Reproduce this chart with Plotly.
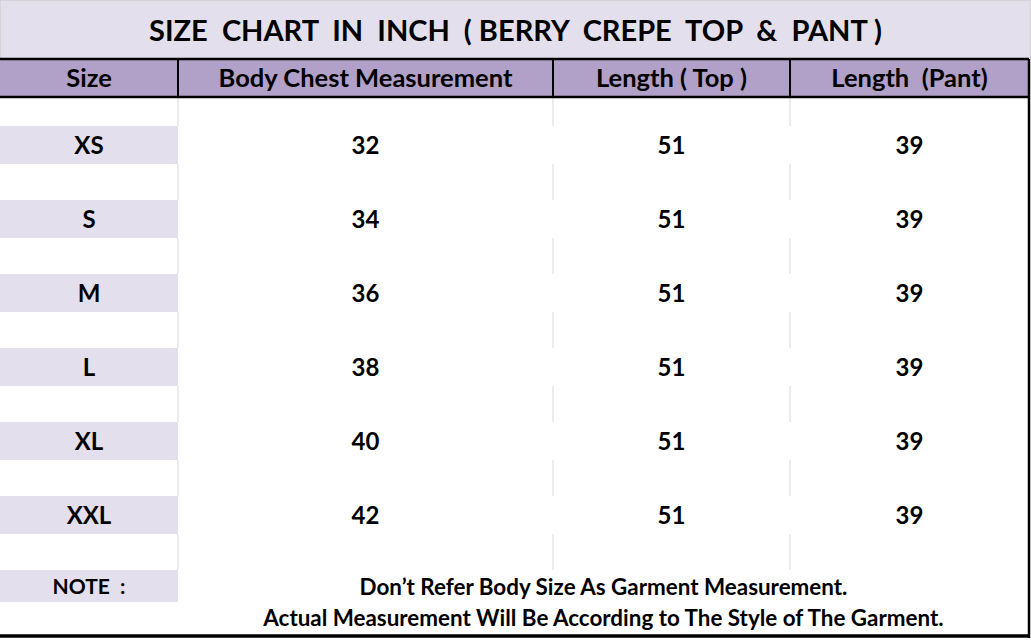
import plotly.graph_objects as go

# table content
title = "SIZE  CHART  IN  INCH  ( BERRY  CREPE  TOP  &  PANT )"
headers = ["Size", "Body Chest Measurement", "Length ( Top )", "Length  (Pant)"]
sizes = ["XS", "S", "M", "L", "XL", "XXL"]
chest = [32, 34, 36, 38, 40, 42]
top_length = [51, 51, 51, 51, 51, 51]
pant_length = [39, 39, 39, 39, 39, 39]
note_label = "NOTE  :"
notes = ["Don’t Refer Body Size As Garment Measurement.",
         "Actual Measurement Will Be According to The Style of The Garment."]

W, H = 1031, 640
FONT = "Lato"
LAVENDER = "#E4DFEC"
PURPLE = "#B1A0C7"

col_edges = [0, 178, 553, 790, 1029]
col_mid = [(col_edges[i] + col_edges[i + 1]) / 2 for i in range(4)]
row_top, row_step, row_h = 126, 74, 38
row_mid = [row_top + row_h / 2 + i * row_step for i in range(len(sizes))]
note_y = [589, 620.5]
dy = 2.5  # svg text sits a bit high, nudge it down


def nb(s):
    # keep the double spaces of the original sheet
    return s.replace("  ", "\u00a0\u00a0")


fig = go.Figure()
shapes = []

# title band and header band
shapes.append(dict(type="rect", x0=0, x1=W, y0=0, y1=59, fillcolor=LAVENDER,
                   line=dict(color="#C8C8C8", width=1), layer="below"))
shapes.append(dict(type="rect", x0=0, x1=col_edges[-1], y0=59, y1=97, fillcolor=PURPLE,
                   line=dict(width=0), layer="below"))

# lavender cells of the size column
for y in row_mid:
    shapes.append(dict(type="rect", x0=0, x1=col_edges[1], y0=y - row_h / 2, y1=y + row_h / 2,
                       fillcolor=LAVENDER, line=dict(width=0), layer="below"))
shapes.append(dict(type="rect", x0=0, x1=col_edges[1], y0=570, y1=602,
                   fillcolor=LAVENDER, line=dict(width=0), layer="below"))

# faint grid in the spacer rows
spacers = [(97, row_top)] + [(y + row_h / 2, y + row_step - row_h / 2) for y in row_mid]
for a, b in spacers:
    for x in col_edges[1:4]:
        shapes.append(dict(type="line", x0=x, x1=x, y0=a, y1=b,
                           line=dict(color="#D9D9D9", width=1)))

# black rules
for y in (59, 97):
    shapes.append(dict(type="line", x0=0, x1=col_edges[-1], y0=y, y1=y,
                       line=dict(color="black", width=2.5)))
for x in col_edges[1:4]:
    shapes.append(dict(type="line", x0=x, x1=x, y0=59, y1=97,
                       line=dict(color="black", width=2)))
shapes.append(dict(type="line", x0=col_edges[-1], x1=col_edges[-1], y0=59, y1=638,
                   line=dict(color="black", width=2.5)))
shapes.append(dict(type="line", x0=0, x1=col_edges[-1], y0=636, y1=636,
                   line=dict(color="black", width=3.5)))

# title
fig.add_trace(go.Scatter(x=[W / 2], y=[31 + dy], mode="text", text=[nb(title)],
                         textfont=dict(family=FONT, size=29, color="black", weight="bold")))
# header
fig.add_trace(go.Scatter(x=col_mid, y=[78 + dy] * 4, mode="text", text=[nb(h) for h in headers],
                         textfont=dict(family=FONT, size=25.5, color="black", weight="bold")))
# body values
for i, col in enumerate([sizes, chest, top_length, pant_length]):
    fig.add_trace(go.Scatter(x=[col_mid[i]] * len(col), y=[y + dy for y in row_mid], mode="text",
                             text=[str(v) for v in col],
                             textfont=dict(family=FONT, size=24, color="black", weight="bold")))
# note
fig.add_trace(go.Scatter(x=[col_mid[0]], y=[note_y[0]], mode="text", text=[nb(note_label)],
                         textfont=dict(family=FONT, size=21, color="black", weight="bold")))
fig.add_trace(go.Scatter(x=[(col_edges[1] + col_edges[-1]) / 2] * 2, y=note_y, mode="text",
                         text=notes,
                         textfont=dict(family=FONT, size=22.4, color="black", weight="bold")))

fig.update_layout(
    width=W, height=H,
    margin=dict(l=0, r=0, t=0, b=0),
    paper_bgcolor="white", plot_bgcolor="white",
    showlegend=False,
    shapes=shapes,
    xaxis=dict(range=[0, W], visible=False, fixedrange=True),
    yaxis=dict(range=[H, 0], visible=False, fixedrange=True),
    hovermode=False,
)

# drop the page margin so the sheet starts at the window corner
fig.write_html("out.html", config={"displayModeBar": False},
               post_script="document.body.style.margin='0';")
